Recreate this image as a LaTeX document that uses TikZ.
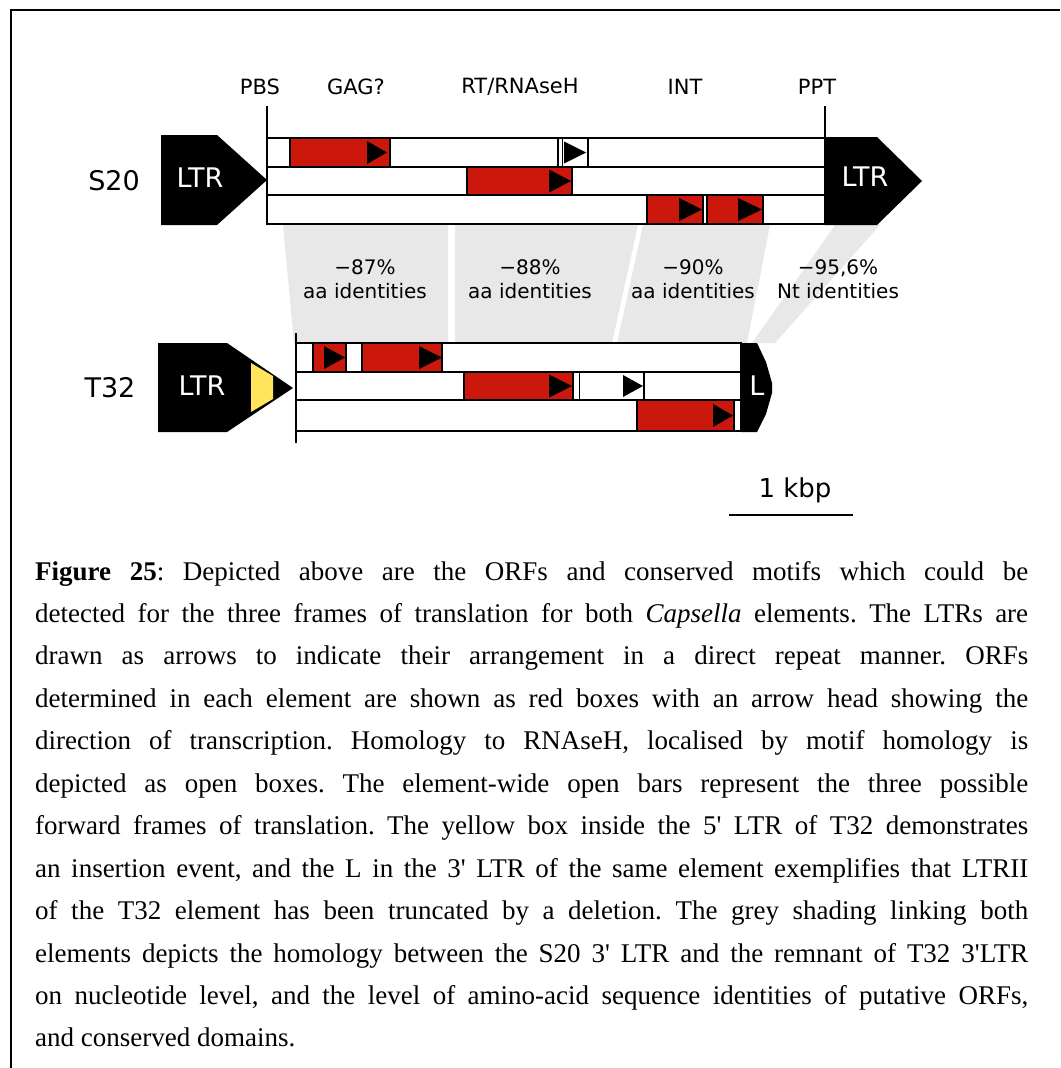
\documentclass[tikz,border=0pt]{standalone}
\usepackage{fontspec}
\newfontfamily\sansf{DejaVu Sans}
\newfontfamily\capf{Liberation Serif}
\definecolor{orfred}{RGB}{204,24,12}
\definecolor{shade}{RGB}{232,232,232}
\definecolor{insy}{RGB}{255,228,92}
\newcommand{\otri}[4]{\fill[black] (#1,#3-#4) -- (#2,#3) -- (#1,#3+#4) -- cycle;}
\newcommand{\jline}[1]{\makebox[993pt][s]{#1}}
\frenchspacing
\begin{document}
\begin{tikzpicture}[x=1pt,y=-1pt,
  bar/.style={draw=black,line width=1.3pt,fill=white},
  orf/.style={draw=black,line width=1.3pt,fill=orfred},
  openbox/.style={draw=black,line width=1.3pt,fill=white},
  band/.style={fill=shade},
  lab/.style={font=\sansf\fontsize{21}{24}\selectfont,inner sep=0},
  big/.style={font=\sansf\fontsize{27}{30}\selectfont,inner sep=0},
  idt/.style={font=\sansf\fontsize{20}{24}\selectfont,inner sep=0,align=center},
  capline/.style={font=\capf\fontsize{27}{30}\selectfont,inner sep=0,anchor=base west}
]
\useasboundingbox (0,0) rectangle (1060,1068);
% frame
\draw[line width=2pt] (11,1068) -- (11,10) -- (1060,10);

% grey homology bands
\fill[band] (283,225) -- (448,225) -- (448,343) -- (294,343) -- cycle;
\fill[band] (455,225) -- (638,225) -- (612,343) -- (455,343) -- cycle;
\fill[band] (643,225) -- (770,225) -- (747,343) -- (617,343) -- cycle;
\fill[band] (835,225) -- (880,225) -- (775,343) -- (752,343) -- cycle;

% ---------- S20 ----------
\node[lab] (pbs) at (260,87) {PBS};
\node[lab] (gag) at (356,87) {GAG?};
\node[lab] (rt) at (520,87) {RT/RNAseH};
\node[lab] (int) at (685,87) {INT};
\node[lab] (ppt) at (817,87) {PPT};
\node[big] (s20) at (114,181) {S20};

\draw[bar] (267,138) rectangle (825,167);
\draw[bar] (267,167) rectangle (825,195);
\draw[bar] (267,195) rectangle (825,224);

% ORFs S20
\draw[orf] (290,138) rectangle (390,167); \otri{367}{387}{152.5}{11.5}
\draw[openbox] (558,138) rectangle (588,167);
\draw[line width=1.3pt] (562.7,138) -- (562.7,167); \otri{564}{586}{152.5}{11}
\draw[orf] (467,167) rectangle (572,195); \otri{549}{571}{181}{11.5}
\draw[orf] (647,195) rectangle (703,224); \otri{679}{702}{209.5}{11.5}
\draw[orf] (707,195) rectangle (763,224); \otri{738}{762}{209.5}{11.5}

\draw[line width=2.6pt] (267,106) -- (267,225);
\draw[line width=1.6pt] (825,106) -- (825,138);

\fill[black] (161,135) -- (217,135) -- (267,180) -- (217,225) -- (161,225) -- cycle;
\node[big,text=white] (ltr1) at (200,178) {LTR};
\fill[black] (825,137) -- (877,137) -- (922,181) -- (877,225) -- (825,225) -- cycle;
\node[big,text=white] (ltr2) at (865,177) {LTR};

% identity labels
\node[idt] (id1) at (365,279) {\char"2212 87\%\\aa identities};
\node[idt] (id2) at (530,279) {\char"2212 88\%\\aa identities};
\node[idt] (id3) at (693,279) {\char"2212 90\%\\aa identities};
\node[idt] (id4) at (838,279) {\char"2212 95,6\%\\Nt identities};

% ---------- T32 ----------
\node[big] (t32) at (110,388) {T32};
\draw[bar] (296,343) rectangle (741,372);
\draw[bar] (296,372) rectangle (741,400);
\draw[bar] (296,400) rectangle (741,431);

\draw[orf] (313,343) rectangle (346,372); \otri{324}{345}{357.5}{11.5}
\draw[orf] (362,343) rectangle (442,372); \otri{419}{442}{357.5}{11.5}
\draw[orf] (464,372) rectangle (573,400); \otri{549}{572}{386}{11.5}
\draw[openbox] (573,372) rectangle (644,400);
\draw[line width=1.3pt] (579.5,372) -- (579.5,400); \otri{623}{643}{386}{11}
\draw[orf] (637,400) rectangle (734,431); \otri{713}{733}{415.5}{11.5}

\draw[line width=2.6pt] (296,333) -- (296,443);

\fill[black] (158,343) -- (227,343) -- (293,388) -- (227,432) -- (158,432) -- cycle;
\fill[insy] (251,363) -- (273,376) -- (273,399) -- (251,412) -- cycle;
\node[big,text=white] (ltr3) at (202,386) {LTR};
\fill[black] (741,343) -- (757,343) -- (766,362) -- (772,383) -- (772,393) -- (766,414) -- (757,432) -- (741,432) -- cycle;
\node[big,text=white] (ltrL) at (757,386) {L};

% scale bar
\node[big,font=\sansf\fontsize{26}{30}\selectfont] (kbp) at (795,490) {1 kbp};
\coordinate (sb1) at (729,515);
\coordinate (sb2) at (853,515);
\draw[line width=1.6pt] (sb1) -- (sb2);

% ---------- caption ----------
\node[capline] (c1) at (35,580) {\jline{\textbf{Figure 25}: Depicted above are the ORFs and conserved motifs which could be}};
\node[capline] (c2) at (35,622.45) {\jline{detected for the three frames of translation for both \textit{Capsella} elements. The LTRs are}};
\node[capline] (c3) at (35,664.9) {\jline{drawn as arrows to indicate their arrangement in a direct repeat manner. ORFs}};
\node[capline] (c4) at (35,707.35) {\jline{determined in each element are shown as red boxes with an arrow head showing the}};
\node[capline] (c5) at (35,749.8) {\jline{direction of transcription. Homology to RNAseH, localised by motif homology is}};
\node[capline] (c6) at (35,792.25) {\jline{depicted as open boxes. The element-wide open bars represent the three possible}};
\node[capline] (c7) at (35,834.7) {\jline{forward frames of translation. The yellow box inside the 5' LTR of T32 demonstrates}};
\node[capline] (c8) at (35,877.15) {\jline{an insertion event, and the L in the 3' LTR of the same element exemplifies that LTRII}};
\node[capline] (c9) at (35,919.6) {\jline{of the T32 element has been truncated by a deletion. The grey shading linking both}};
\node[capline] (c10) at (35,962.05) {\jline{elements depicts the homology between the S20 3' LTR and the remnant of T32 3'LTR}};
\node[capline] (c11) at (35,1004.5) {\jline{on nucleotide level, and the level of amino-acid sequence identities of putative ORFs,}};
\node[capline] (c12) at (35,1046.95) {and conserved domains.};
\end{tikzpicture}
\end{document}
